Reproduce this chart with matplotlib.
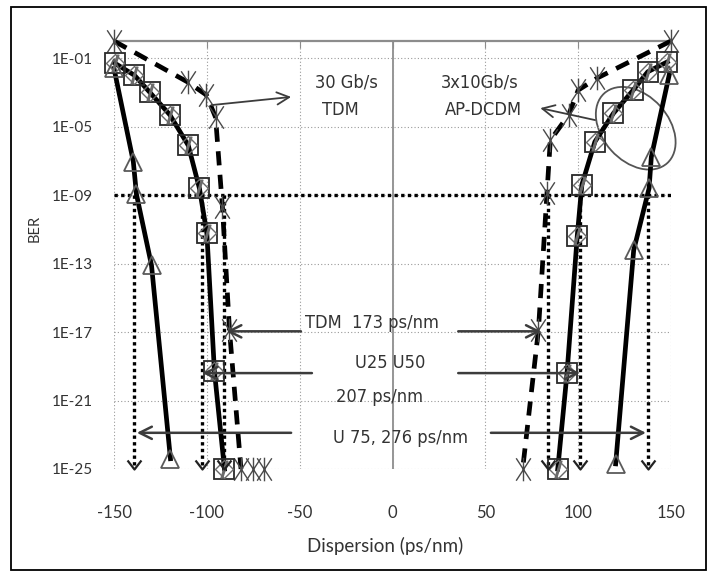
import numpy as np
import matplotlib
matplotlib.use("Agg")
import matplotlib.pyplot as plt
from matplotlib import font_manager as fm
from matplotlib.patches import Ellipse, Rectangle
from matplotlib.path import Path
from matplotlib.transforms import ScaledTranslation
from matplotlib.ticker import FixedLocator, FuncFormatter

plt.rcParams['axes.unicode_minus'] = False

# ---------------- data ----------------
tdm_left_x = [-150, -110.3, -100.2, -95.3, -91.6, -87.8, -81.6, -75.4, -69.1]
tdm_left_ber = [1e0, 4e-3, 7e-4, 3.5e-5, 2e-10, 1.3e-17, 1e-25, 1e-25, 1e-25]
tdm_right_x = [150, 110.2, 100, 94.8, 85, 83.2, 78.6, 70.1]
tdm_right_ber = [1e0, 6.8e-3, 1.35e-3, 4.7e-5, 1.6e-6, 1.3e-9, 1.3e-17, 1e-25]

u_left_x = [-149.5, -139, -130.7, -120, -110, -104, -100, -95.9, -90.5]
u_left_ber = [5e-2, 1e-2, 1e-3, 5e-5, 8e-7, 2.5e-9, 6e-12, 5e-20, 1e-25]
u_right_x = [148, 137.5, 129.5, 119, 109, 102, 99.5, 94, 89]
u_right_ber = [6e-2, 1.6e-2, 1.3e-3, 6e-5, 1.3e-6, 4e-9, 4e-12, 4e-20, 1e-25]

u75_left_x = [-150, -139.6, -137.9, -129.8, -119.6]
u75_left_ber = [2.5e-2, 9e-8, 1.1e-9, 8e-14, 4e-25]
u75_right_x = [149, 139.4, 138.2, 129.9, 120.2]
u75_right_ber = [1e-2, 1.7e-7, 2.5e-9, 6e-13, 2e-25]

ber_threshold = 1e-9
ber_floor = 1e-25
limit_left_x = [-139, -102.5, -91]
limit_right_x = [83.5, 101, 137.5]

x_ticks = [-150, -100, -50, 0, 50, 100, 150]
y_ticks = [1e-1, 1e-5, 1e-9, 1e-13, 1e-17, 1e-21, 1e-25]


# ---------------- fonts ----------------
def pick_narrow():
    cands = [('Liberation Sans Narrow', 'normal'),
             ('Arial Narrow', 'normal'),
             ('DejaVu Sans Condensed', 'normal'),
             ('DejaVu Sans', 'condensed'),
             ('Noto Sans', 'condensed'),
             ('Open Sans', 'condensed'),
             ('Roboto', 'condensed')]
    for fam, st in cands:
        try:
            f = fm.findfont(fm.FontProperties(family=fam, stretch=st),
                            fallback_to_default=False)
        except Exception:
            continue
        low = f.lower()
        if 'narrow' in low or 'condensed' in low:
            return fm.FontProperties(fname=f)
    return fm.FontProperties(family='Liberation Sans')


NARROW_FP = pick_narrow()
TICKF = ['Lato', 'DejaVu Sans']
txt_col = '#333333'

# ---------------- figure ----------------
W, H = 716, 578
fig = plt.figure(figsize=(W / 100, H / 100), dpi=100)
ax = fig.add_axes([114 / W, 1 - 469 / H, 557 / W, 428 / H])

ax.set_xlim(-150, 150)
ax.set_yscale('log')
ax.set_ylim(1e-25, 1e0)
ax.xaxis.set_major_locator(FixedLocator(x_ticks))
ax.yaxis.set_major_locator(FixedLocator(y_ticks))
ax.yaxis.set_minor_locator(FixedLocator([]))
ax.yaxis.set_major_formatter(FuncFormatter(
    lambda v, p: "1E%+03d" % int(round(np.log10(v)))))
ax.xaxis.set_major_formatter(FuncFormatter(lambda v, p: "%d" % v))

ax.grid(True, color='#9a9a9a', linestyle=(0, (1, 2)), linewidth=0.8)
for s in ['left', 'right', 'bottom']:
    ax.spines[s].set_visible(False)
ax.spines['top'].set_color('#8c8c8c')
ax.spines['top'].set_linewidth(1.6)
ax.axvline(0, color='#8c8c8c', lw=1.3, zorder=1.5)

ax.xaxis.set_ticks_position('top')
ax.tick_params(axis='x', top=True, bottom=False, labeltop=False,
               labelbottom=True, direction='in', length=5, color='#8c8c8c',
               pad=26, labelsize=12, labelcolor=txt_col)
ax.tick_params(axis='y', left=False, right=False, pad=12, labelsize=11,
               labelcolor=txt_col)
for lab in ax.get_xticklabels() + ax.get_yticklabels():
    lab.set_family(TICKF)

fig.text(35 / W, 1 - 228 / H, 'BER', rotation=90, ha='center', va='center',
         fontsize=10.5, color=txt_col, family=TICKF)
fig.text(385 / W, 1 - 546 / H, 'Dispersion (ps/nm)', ha='center',
         va='center', fontsize=13.5, color=txt_col, family=TICKF)

# ---------------- series ----------------
mk_col = '#4a4a4a'
star = Path([(0, -1), (0, 1), (-0.62, -0.95), (0.62, 0.95),
             (-0.62, 0.95), (0.62, -0.95)],
            [Path.MOVETO, Path.LINETO] * 3)


def until_floor(xs, ys):
    for i, v in enumerate(ys):
        if v <= ber_floor:
            return xs[:i + 1], ys[:i + 1]
    return xs, ys


# TDM (dashed, asterisks)
for xs, ys in [(tdm_left_x, tdm_left_ber), (tdm_right_x, tdm_right_ber)]:
    lx, ly = until_floor(xs, ys)
    ax.plot(lx, ly, color='black', lw=3.4, linestyle=(0, (3, 2)),
            zorder=4, clip_on=False)
    ax.plot(xs, ys, linestyle='none', marker=star, ms=17, mew=1.0,
            color=mk_col, zorder=5, clip_on=False)
# U25 / U50 (squares)
for xs, ys in [(u_left_x, u_left_ber), (u_right_x, u_right_ber)]:
    ax.plot(xs, ys, color='black', lw=3.4, zorder=4, clip_on=False)
    ax.plot(xs, ys, linestyle='none', marker='s', ms=14, mfc='none',
            mec='#2a2a2a', mew=1.3, zorder=5, clip_on=False)
    ax.plot(xs, ys, linestyle='none', marker='D', ms=9, mfc='none',
            mec='#6a6a6a', mew=1.0, zorder=5, clip_on=False)
    ax.plot(xs, ys, linestyle='none', marker='$/$', ms=12,
            color='#6a6a6a', zorder=5, clip_on=False)
# U75 (triangles)
for xs, ys in [(u75_left_x, u75_left_ber), (u75_right_x, u75_right_ber)]:
    ax.plot(xs, ys, color='black', lw=3.4, zorder=4, clip_on=False)
    ax.plot(xs, ys, linestyle='none', marker='^', ms=13, mfc='none',
            mec='#5a5a5a', mew=1.3, zorder=5, clip_on=False)

# threshold line
ax.axhline(ber_threshold, color='black', lw=2.4, linestyle=(0, (1, 1)),
           zorder=3)

# vertical dotted limit arrows
vhead = Path([(-1, 1.3), (0, 0), (1, 1.3)],
             [Path.MOVETO, Path.LINETO, Path.LINETO])
for xv in limit_left_x + limit_right_x:
    ax.plot([xv, xv], [ber_threshold, ber_floor], color='black', lw=2.4,
            linestyle=(0, (1, 1)), zorder=3)
    ax.plot([xv], [ber_floor], marker=vhead, ms=13, mfc='none', mec='#222',
            mew=1.6, zorder=6, clip_on=False)

# ---------------- annotations ----------------
acol = '#3c3c3c'


def arrow(tail, head, lw=1.8):
    ax.annotate('', xy=head, xytext=tail,
                arrowprops=dict(arrowstyle='->', color=acol, lw=lw,
                                mutation_scale=22, shrinkA=0, shrinkB=0),
                zorder=6, annotation_clip=False)


labels = []


def label(x, y, s, target_w=None):
    t = ax.text(x, y, s, fontproperties=NARROW_FP, fontsize=15,
                color=txt_col, ha='center', va='center')
    labels.append((t, target_w))
    return t


# TDM 173 ps/nm
arrow((-49.3, 1.1e-17), (-89.5, 1.1e-17))
arrow((35.4, 1.1e-17), (80, 1.1e-17))
label(-11, 3.2e-17, 'TDM  173 ps/nm', 137)
# U25 U50
arrow((-43.4, 4e-20), (-102.3, 4e-20))
arrow((35.4, 4e-20), (101, 4e-20))
label(-1, 1.6e-19, 'U25 U50', 70)
label(-7.2, 1.6e-21, '207 ps/nm', 85)
# U75
arrow((-54.6, 1.3e-23), (-137.7, 1.3e-23))
arrow((53, 1.3e-23), (136.5, 1.3e-23))
label(4.5, 6.3e-24, 'U 75, 276 ps/nm', 131)

# top labels
label(-24.9, 4e-3, '30 Gb/s', 65)
label(-28.0, 9e-5, 'TDM', None)
arrow((-97.6, 1.8e-4), (-54.6, 5.4e-4), lw=1.3)
label(47.0, 4e-3, '3x10Gb/s', 78)
label(48.8, 9e-5, 'AP-DCDM', 85)
arrow((109.1, 2.4e-5), (79.6, 1.2e-4), lw=1.3)

# fit the annotation font size to the widths seen in the reference
renderer = fig.canvas.get_renderer()
sizes = []
for t, tw in labels:
    if tw:
        w = t.get_window_extent(renderer).width
        sizes.append(15 * tw / w)
common = float(np.median(sizes))
for t, tw in labels:
    t.set_fontsize(common)

ell = Ellipse((0, 0), width=0.94, height=0.66, angle=-48, fill=False,
              ec='#555555', lw=1.3, clip_on=False,
              transform=fig.dpi_scale_trans + ScaledTranslation(131, 8e-6, ax.transData))
ax.add_artist(ell)
ell.set_clip_on(False)

# outer border
fig.add_artist(Rectangle((11 / W, 1 - 570 / H), 695 / W, 563 / H,
                         transform=fig.transFigure, fill=False,
                         ec='black', lw=1.3))

fig.savefig('out.png', dpi=100)
